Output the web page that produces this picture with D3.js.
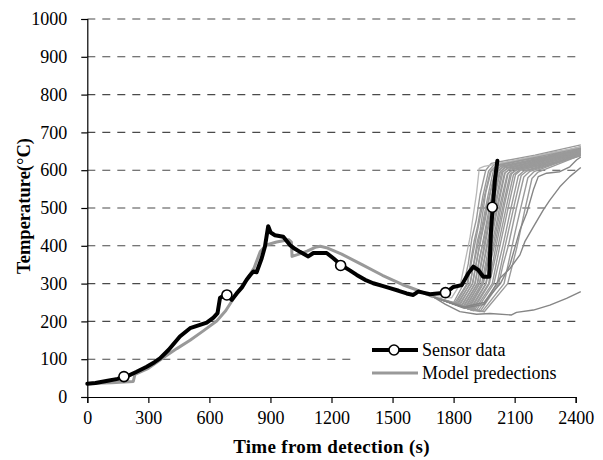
<!DOCTYPE html>
<html><head><meta charset="utf-8">
<script src="https://cdn.jsdelivr.net/npm/d3@7"></script>
<style>
html,body{margin:0;padding:0;background:#fff;}
svg text{font-family:"Liberation Serif","Tinos","Times New Roman",serif;fill:#000;}
</style>
</head><body>
<svg id="chart" width="603" height="460"></svg>
<script>
// ---- data ----
const xTicks = [0,300,600,900,1200,1500,1800,2100,2400];
const yTicks = [0,100,200,300,400,500,600,700,800,900,1000];
const legendLabels = ["Sensor data","Model predections"];
const xTitle = "Time from detection (s)";
const yTitle = "Temperature(°C)";

const sensor = [[0,35],[40,37],[100,43],[150,48],[177,54],[200,56],[240,66],[292,80],[330,92],[357,102],[400,125],[455,160],[505,182],[550,190],[587,197],[620,210],[640,222],[652,262],[680,272],[700,262],[710,257],[734,274],[760,290],[783,310],[800,322],[816,332],[832,330],[857,367],[873,398],[889,452],[901,435],[922,428],[963,424],[996,402],[1020,392],[1045,384],[1086,372],[1111,381],[1176,381],[1209,367],[1247,349],[1290,335],[1324,323],[1365,310],[1405,301],[1450,294],[1487,288],[1530,281],[1569,274],[1602,270],[1626,279],[1650,276],[1684,272],[1720,274],[1763,276],[1798,291],[1840,296],[1872,327],[1897,345],[1921,336],[1946,318],[1975,318],[1984,442],[1992,500],[2003,574],[2015,625]];
const sensorMarkers = [[180,54],[686,270],[1245,348],[1760,276],[1990,502]];

const modelTrunk = [[0,36],[120,38],[226,41],[234,60],[300,76],[373,104],[440,128],[505,150],[570,175],[636,201],[680,228],[720,262],[783,310],[820,342],[850,385],[880,402],[930,410],[990,416],[1003,410],[1006,372],[1040,378],[1080,386],[1120,396],[1145,399],[1175,395],[1250,378],[1350,350],[1450,322],[1550,297],[1620,283],[1700,265]];

const modelTails = [
 [[1700,265],[1800,250],[1850,300],[1872,352],[1890,420],[1912,470],[1930,535],[1958,600],[1985,618],[2200,640],[2425,667]],
 [[1700,265],[1805,248],[1866,300],[1900,410],[1918,452],[1944,532],[1972,598],[2000,615],[2250,636],[2425,662]],
 [[1700,265],[1810,246],[1870,300],[1890,365],[1912,425],[1950,528],[1980,596],[2010,612],[2425,660]],
 [[1700,265],[1815,245],[1882,300],[1916,410],[1930,440],[1958,540],[1986,600],[2015,614],[2300,648],[2425,658]],
 [[1700,265],[1820,244],[1880,300],[1925,418],[1940,452],[1968,530],[1995,598],[2020,612],[2425,661]],
 [[1700,265],[1825,243],[1894,300],[1910,350],[1930,412],[1970,520],[2004,596],[2030,610],[2425,655]],
 [[1700,265],[1830,242],[1892,300],[1938,426],[1955,468],[1976,528],[2006,598],[2034,611],[2200,628],[2425,657]],
 [[1700,265],[1835,240],[1906,300],[1942,405],[1986,530],[2012,595],[2040,608],[2425,652]],
 [[1700,265],[1840,240],[1904,300],[1926,365],[1950,420],[1988,518],[2020,597],[2045,610],[2425,654]],
 [[1700,265],[1845,238],[1916,300],[1952,408],[1970,455],[1993,520],[2025,594],[2052,606],[2300,635],[2425,650]],
 [[1700,265],[1850,238],[1918,300],[1960,418],[2002,530],[2030,596],[2055,610],[2425,656]],
 [[1700,265],[1855,236],[1928,300],[1946,350],[1962,400],[2004,512],[2036,594],[2065,605],[2425,648]],
 [[1700,265],[1860,236],[1926,300],[1972,415],[1990,462],[2014,525],[2042,595],[2068,607],[2425,652]],
 [[1700,265],[1865,235],[1938,300],[1976,405],[2016,510],[2050,592],[2078,603],[2250,625],[2425,646]],
 [[1700,265],[1870,234],[1944,300],[1960,345],[1980,402],[2026,524],[2054,594],[2082,606],[2425,650]],
 [[1700,265],[1875,233],[1946,300],[1990,410],[2008,452],[2030,512],[2064,590],[2092,602],[2425,644]],
 [[1700,265],[1880,232],[1958,300],[1994,400],[2040,520],[2068,592],[2096,604],[2425,648]],
 [[1700,265],[1885,231],[1960,300],[1982,358],[2004,408],[2044,508],[2078,590],[2105,600],[2425,642]],
 [[1700,265],[1890,230],[1972,300],[2008,398],[2030,455],[2054,518],[2084,590],[2112,602],[2425,646]],
 [[1700,265],[1895,229],[1976,300],[2020,404],[2060,505],[2094,588],[2120,599],[2300,622],[2425,640]],
 [[1700,265],[1900,228],[1990,300],[2008,348],[2026,396],[2074,515],[2104,588],[2130,600],[2425,644]],
 [[1700,265],[1910,228],[1998,300],[2042,400],[2060,445],[2082,500],[2118,585],[2145,598],[2425,641]],
 [[1700,265],[1920,227],[2014,300],[2050,392],[2100,512],[2132,586],[2160,598],[2425,638]],
 [[1700,265],[1930,226],[2022,300],[2044,352],[2068,398],[2108,498],[2145,582],[2175,597],[2425,640]],
 [[1700,265],[1940,226],[2048,300],[2082,386],[2104,440],[2132,505],[2165,580],[2195,596],[2425,642]],
 [[1700,265],[1950,225],[2066,300],[2110,394],[2148,490],[2185,578],[2215,595],[2425,640]]
];
const modelEarly = [[1700,265],[1790,262],[1834,300],[1880,420],[1913,540],[1926,605],[1950,610],[1995,615],[2425,662]];
const modelLate = [
 [[1700,265],[1850,238],[1950,250],[2030,300],[2077,350],[2126,442],[2159,486],[2192,548],[2216,583],[2257,592],[2322,596],[2371,609],[2404,627],[2425,635]],
 [[1700,265],[1850,235],[1950,245],[2027,314],[2077,340],[2126,376],[2150,411],[2192,450],[2241,495],[2273,521],[2322,556],[2371,583],[2425,607]],
 [[1700,265],[1760,245],[1831,226],[1913,219],[1979,221],[2085,217],[2109,224],[2192,230],[2273,243],[2355,261],[2425,279]]
];

// ---- chart ----
const serif = "'Liberation Serif','Tinos','Times New Roman',serif";
const svg = d3.select("#chart");
const x = d3.scaleLinear().domain([0,2400]).range([87.3,575.7]);
const y = d3.scaleLinear().domain([0,1000]).range([397,19]);
const line = d3.line().x(d=>x(d[0])).y(d=>y(d[1]));

// gridlines
svg.append("g").selectAll("line").data(yTicks.filter(v=>v>0)).join("line")
  .attr("x1",x(0)).attr("x2",x(2400)).attr("y1",d=>y(d)).attr("y2",d=>y(d))
  .attr("stroke","#4a4a4a").attr("stroke-width",1.1).attr("stroke-dasharray","8,7");

// model lines
const gm = svg.append("g").attr("fill","none").attr("stroke-linejoin","round");
gm.selectAll("path.tail").data(modelTails).join("path").attr("class","tail")
  .attr("d",line).attr("stroke","#9a9a9a").attr("stroke-width",1.4);
gm.append("path").attr("d",line(modelEarly)).attr("stroke","#b8b8b8").attr("stroke-width",1.3);
gm.selectAll("path.late").data(modelLate).join("path").attr("class","late")
  .attr("d",line).attr("stroke","#858585").attr("stroke-width",1.4);
gm.append("path").attr("d",line(modelTrunk)).attr("stroke","#999").attr("stroke-width",3);

// sensor
svg.append("path").attr("d",line(sensor)).attr("fill","none").attr("stroke","#000")
  .attr("stroke-width",4).attr("stroke-linejoin","round").attr("stroke-linecap","round");
svg.append("g").selectAll("circle").data(sensorMarkers).join("circle")
  .attr("cx",d=>x(d[0])).attr("cy",d=>y(d[1])).attr("r",5)
  .attr("fill","#fff").attr("stroke","#000").attr("stroke-width",1.6);

// legend
const lg = svg.append("g");
lg.append("rect").attr("x",356).attr("y",338).attr("width",222).attr("height",48).attr("fill","#fff");
lg.append("line").attr("x1",372).attr("x2",418).attr("y1",350).attr("y2",350).attr("stroke","#000").attr("stroke-width",4);
lg.append("circle").attr("cx",394).attr("cy",350).attr("r",5).attr("fill","#fff").attr("stroke","#000").attr("stroke-width",1.6);
lg.append("line").attr("x1",372).attr("x2",418).attr("y1",373).attr("y2",373).attr("stroke","#999").attr("stroke-width",3);
lg.selectAll("text").data(legendLabels).join("text")
  .attr("x",422).attr("y",(d,i)=>356+i*23).attr("font-size",18).attr("font-family",serif).text(d=>d);

// axes
const xa = svg.append("g").attr("transform",`translate(0,${y(0)})`)
  .call(d3.axisBottom(x).tickValues(xTicks).tickSize(6).tickPadding(8).tickFormat(d3.format("d")));
const ya = svg.append("g").attr("transform",`translate(${x(0)},0)`)
  .call(d3.axisLeft(y).tickValues(yTicks).tickSize(6).tickPadding(14).tickFormat(d3.format("d")));
[xa,ya].forEach(g=>{
  g.attr("font-family",serif).attr("font-size",18);
  g.select(".domain").attr("stroke","#000").attr("stroke-width",1.2);
  g.selectAll(".tick line").attr("stroke","#000").attr("stroke-width",1.2);
  g.selectAll("text").attr("font-size",18).attr("font-family",serif);
});

svg.append("text").attr("x",(x(0)+x(2400))/2).attr("y",453).attr("text-anchor","middle")
  .attr("font-family",serif).attr("font-size",19).attr("letter-spacing",0.3).attr("font-weight","bold").text(xTitle);
svg.append("text").attr("transform",`translate(30,${(y(0)+y(1000))/2-2}) rotate(-90)`)
  .attr("font-family",serif).attr("text-anchor","middle").attr("font-size",18.5).attr("font-weight","bold").text(yTitle);
</script>
</body></html>
